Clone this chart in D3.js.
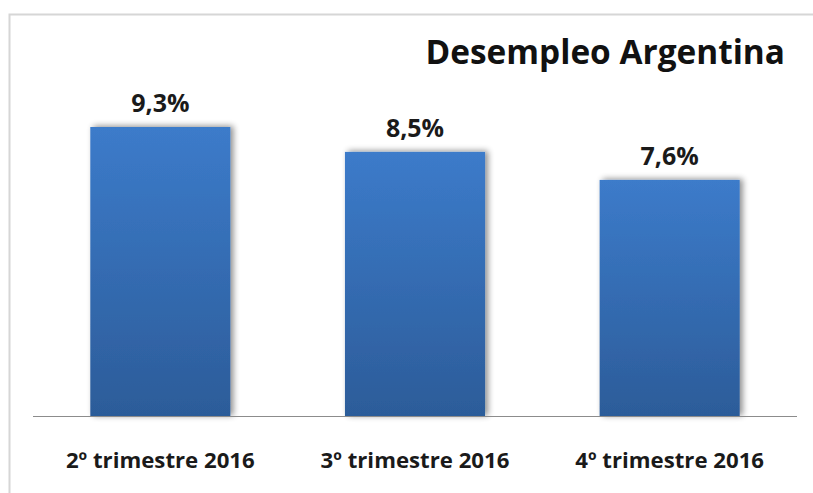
<!DOCTYPE html>
<html>
<head>
<meta charset="utf-8">
<script src="https://cdn.jsdelivr.net/npm/d3@7/dist/d3.min.js"></script>
<style>
  html, body { margin: 0; padding: 0; background: #fff; }
  svg { display: block; }
</style>
</head>
<body>
<svg id="chart" width="813" height="493"></svg>
<script>
const categories = ["2º trimestre 2016", "3º trimestre 2016", "4º trimestre 2016"];
const values = [9.3, 8.5, 7.6];
const valueLabels = ["9,3%", "8,5%", "7,6%"];
const title = "Desempleo Argentina";

const W = 813, H = 493;
const svg = d3.select("#chart");
const font = "'Open Sans', 'DejaVu Sans', sans-serif";

const defs = svg.append("defs");
const grad = defs.append("linearGradient").attr("id", "barGrad")
  .attr("x1", 0).attr("y1", 0).attr("x2", 0).attr("y2", 1);
grad.append("stop").attr("offset", "0%").attr("stop-color", "#3c7bca");
grad.append("stop").attr("offset", "100%").attr("stop-color", "#2c5c99");

const shadow = defs.append("filter").attr("id", "shadow")
  .attr("x", "-10%").attr("y", "-10%").attr("width", "130%").attr("height", "120%");
shadow.append("feGaussianBlur").attr("in", "SourceAlpha").attr("stdDeviation", 3).attr("result", "blur");
shadow.append("feOffset").attr("in", "blur").attr("dx", 3).attr("dy", -1).attr("result", "off");
shadow.append("feComponentTransfer").attr("in", "off").attr("result", "soft")
  .append("feFuncA").attr("type", "linear").attr("slope", 0.45);
const merge = shadow.append("feMerge");
merge.append("feMergeNode").attr("in", "soft");
merge.append("feMergeNode").attr("in", "SourceGraphic");

// frame
svg.append("path")
  .attr("d", `M9.5,${H} L9.5,14.5 L${W},14.5`)
  .attr("fill", "none").attr("stroke", "#d6d6d6").attr("stroke-width", 2);

const x = d3.scaleBand().domain(categories).range([33, 797])
  .paddingInner(0.45).paddingOuter(0.225);
const baseline = 416.5;
const y = d3.scaleLinear().domain([0, 9.3]).range([baseline, 127]);

svg.append("g").selectAll("rect").data(values).join("rect")
  .attr("x", (d, i) => x(categories[i]))
  .attr("y", d => y(d))
  .attr("width", x.bandwidth())
  .attr("height", d => baseline - y(d))
  .attr("fill", "url(#barGrad)")
  .attr("filter", "url(#shadow)");

// axis line
svg.append("line").attr("x1", 33).attr("x2", 797)
  .attr("y1", baseline).attr("y2", baseline)
  .attr("stroke", "#8c8c8c").attr("stroke-width", 1.2);

// value labels
svg.append("g").selectAll("text").data(values).join("text")
  .attr("x", (d, i) => x(categories[i]) + x.bandwidth() / 2)
  .attr("y", d => y(d) - 15)
  .attr("text-anchor", "middle")
  .attr("font-family", font).attr("font-weight", 700).attr("font-size", 25)
  .attr("fill", "#1a1a1a")
  .text((d, i) => valueLabels[i]);

// category labels
svg.append("g").selectAll("text").data(categories).join("text")
  .attr("x", d => x(d) + x.bandwidth() / 2)
  .attr("y", 468)
  .attr("text-anchor", "middle")
  .attr("font-family", font).attr("font-weight", 700).attr("font-size", 22.2)
  .attr("fill", "#1a1a1a")
  .text(d => d);

// title
svg.append("text").attr("x", 785).attr("y", 64)
  .attr("text-anchor", "end")
  .attr("font-family", font).attr("font-weight", 700).attr("font-size", 33.4)
  .attr("fill", "#111")
  .text(title);
</script>
</body>
</html>
